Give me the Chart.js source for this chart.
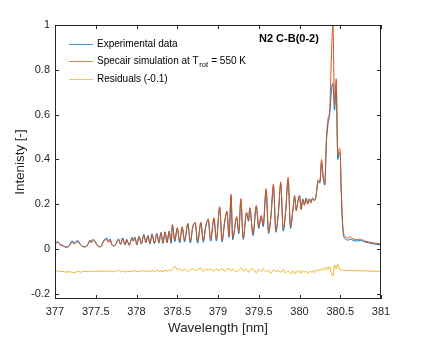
<!DOCTYPE html>
<html>
<head>
<meta charset="utf-8">
<script src="https://cdn.jsdelivr.net/npm/chart.js@4.4.1/dist/chart.umd.min.js"></script>
<style>
  html, body { margin: 0; padding: 0; background: #fff; }
  canvas { display: block; }
</style>
</head>
<body>
<canvas id="chart" width="421" height="337"></canvas>
<script>
// wavelength [nm] of each sample point
const wavelength = [
  377.00, 377.03, 377.06, 377.10, 377.13, 377.17, 377.21, 377.235, 377.26, 377.285,
  377.315, 377.355, 377.39, 377.43, 377.445, 377.46, 377.49, 377.515, 377.56, 377.60,
  377.635, 377.655, 377.675, 377.70, 377.73, 377.78, 377.805, 377.83, 377.86, 377.88,
  377.91, 377.945, 377.96, 377.98, 378.005, 378.03, 378.06, 378.09, 378.115, 378.14,
  378.165, 378.19, 378.22, 378.25, 378.275, 378.30, 378.325, 378.35, 378.375, 378.40,
  378.425, 378.44, 378.47, 378.50, 378.53, 378.56, 378.59, 378.63, 378.66, 378.69,
  378.72, 378.75, 378.79, 378.82, 378.85, 378.88, 378.91, 378.95, 378.98, 379.02,
  379.05, 379.08, 379.11, 379.135, 379.16, 379.18, 379.23, 379.255, 379.28, 379.31,
  379.35, 379.375, 379.39, 379.43, 379.47, 379.50, 379.53, 379.555, 379.59, 379.62,
  379.65, 379.68, 379.71, 379.74, 379.77, 379.80, 379.83, 379.86, 379.89, 379.92,
  379.94, 379.96, 379.98, 380.00, 380.02, 380.04, 380.06, 380.08, 380.10, 380.12,
  380.14, 380.16, 380.18, 380.20, 380.23, 380.25, 380.27, 380.29, 380.31, 380.33,
  380.35, 380.37, 380.39, 380.41, 380.43, 380.45, 380.47, 380.49, 380.50, 380.51,
  380.53, 380.55, 380.60, 380.62, 380.65, 380.70, 380.75, 380.80, 380.90, 381.00
];

const experimental = [
  0.022, 0.034, 0.022, 0.015, 0.009, 0.013, 0.037, 0.025, 0.035, 0.036,
  0.020, 0.010, 0.013, 0.040, 0.030, 0.042, 0.037, 0.019, 0.010, 0.040,
  0.048, 0.032, 0.045, 0.019, 0.014, 0.045, 0.021, 0.050, 0.018, 0.044,
  0.016, 0.052, 0.036, 0.054, 0.018, 0.058, 0.022, 0.066, 0.027, 0.061,
  0.022, 0.068, 0.024, 0.070, 0.026, 0.074, 0.025, 0.077, 0.027, 0.080,
  0.025, 0.105, 0.033, 0.092, 0.028, 0.095, 0.032, 0.110, 0.027, 0.096,
  0.114, 0.026, 0.116, 0.030, 0.100, 0.128, 0.035, 0.134, 0.036, 0.182,
  0.032, 0.114, 0.164, 0.052, 0.235, 0.042, 0.140, 0.068, 0.215, 0.043,
  0.160, 0.124, 0.178, 0.060, 0.188, 0.092, 0.144, 0.100, 0.260, 0.070,
  0.145, 0.280, 0.075, 0.155, 0.290, 0.080, 0.165, 0.308, 0.092, 0.176,
  0.232, 0.175, 0.215, 0.236, 0.180, 0.224, 0.200, 0.228, 0.205, 0.225,
  0.210, 0.228, 0.218, 0.232, 0.300, 0.295, 0.385, 0.320, 0.285, 0.475,
  0.560, 0.600, 0.700, 0.740, 0.620, 0.730, 0.400, 0.430, 0.420, 0.280,
  0.100, 0.050, 0.040, 0.045, 0.040, 0.036, 0.038, 0.032, 0.024, 0.018
];

const simulation = [
  0.020, 0.030, 0.020, 0.014, 0.008, 0.012, 0.030, 0.022, 0.030, 0.032,
  0.018, 0.010, 0.012, 0.035, 0.028, 0.037, 0.033, 0.018, 0.010, 0.035,
  0.042, 0.030, 0.040, 0.018, 0.015, 0.040, 0.022, 0.045, 0.020, 0.040,
  0.018, 0.048, 0.035, 0.050, 0.020, 0.055, 0.025, 0.062, 0.030, 0.058,
  0.025, 0.065, 0.028, 0.068, 0.030, 0.072, 0.030, 0.075, 0.032, 0.078,
  0.030, 0.110, 0.040, 0.095, 0.035, 0.100, 0.040, 0.115, 0.035, 0.100,
  0.120, 0.035, 0.120, 0.040, 0.105, 0.135, 0.045, 0.140, 0.045, 0.190,
  0.040, 0.120, 0.170, 0.060, 0.245, 0.050, 0.145, 0.075, 0.225, 0.050,
  0.165, 0.130, 0.185, 0.070, 0.195, 0.100, 0.150, 0.110, 0.270, 0.080,
  0.150, 0.290, 0.085, 0.160, 0.300, 0.090, 0.170, 0.320, 0.100, 0.180,
  0.240, 0.170, 0.210, 0.240, 0.175, 0.220, 0.195, 0.225, 0.200, 0.220,
  0.205, 0.225, 0.215, 0.230, 0.310, 0.300, 0.400, 0.330, 0.290, 0.490,
  0.580, 0.620, 0.840, 1.000, 0.640, 0.760, 0.420, 0.450, 0.430, 0.290,
  0.110, 0.060, 0.050, 0.055, 0.047, 0.042, 0.044, 0.036, 0.028, 0.022
];

// residuals, already shifted by -0.1
const residuals = [
  -0.099, -0.097, -0.101, -0.100, -0.103, -0.101, -0.104, -0.106, -0.102, -0.100,
  -0.103, -0.099, -0.101, -0.098, -0.102, -0.099, -0.101, -0.097, -0.100, -0.098,
  -0.101, -0.099, -0.097, -0.102, -0.100, -0.096, -0.101, -0.098, -0.103, -0.099,
  -0.101, -0.097, -0.100, -0.096, -0.102, -0.098, -0.101, -0.095, -0.100, -0.097,
  -0.102, -0.096, -0.101, -0.094, -0.099, -0.097, -0.101, -0.095, -0.099, -0.093,
  -0.098, -0.092, -0.076, -0.093, -0.088, -0.097, -0.090, -0.099, -0.092, -0.088,
  -0.097, -0.091, -0.086, -0.099, -0.090, -0.094, -0.088, -0.098, -0.091, -0.096,
  -0.087, -0.099, -0.092, -0.086, -0.097, -0.090, -0.101, -0.093, -0.085, -0.098,
  -0.090, -0.103, -0.094, -0.089, -0.106, -0.092, -0.099, -0.088, -0.102, -0.095,
  -0.109, -0.093, -0.100, -0.096, -0.104, -0.091, -0.107, -0.098, -0.110, -0.097,
  -0.112, -0.099, -0.105, -0.094, -0.108, -0.096, -0.103, -0.099, -0.110, -0.100,
  -0.104, -0.097, -0.106, -0.093, -0.098, -0.090, -0.095, -0.085, -0.094, -0.080,
  -0.092, -0.078, -0.105, -0.120, -0.070, -0.088, -0.068, -0.090, -0.092, -0.094,
  -0.093, -0.095, -0.096, -0.094, -0.097, -0.096, -0.098, -0.097, -0.099, -0.099
];

const xTicks = [377, 377.5, 378, 378.5, 379, 379.5, 380, 380.5, 381];
const yTicks = [-0.2, 0, 0.2, 0.4, 0.6, 0.8, 1];

const seriesLabels = ['Experimental data', 'Specair simulation at T', 'Residuals (-0.1)'];
const plotTitle = 'N2 C-B(0-2)';

const axisColor = '#262626';
const font = '"Liberation Sans", Arial, Helvetica, sans-serif';

const toPoints = vals => vals.map((v, i) => ({ x: wavelength[i], y: v }));

// box around the plot, inward ticks, legend and title (matlab look)
const matlabFrame = {
    id: 'matlabFrame',
    afterDatasetsDraw(chart) {
        const { ctx, chartArea: a, scales: { x, y } } = chart;
        ctx.save();
        ctx.strokeStyle = axisColor;
        ctx.lineWidth = 1;
        ctx.strokeRect(Math.round(a.left) + 0.5, Math.round(a.top) + 0.5,
            Math.round(a.width) - 1, Math.round(a.height) - 1);

        const tl = 4;
        ctx.beginPath();
        xTicks.forEach(t => {
            const px = Math.round(x.getPixelForValue(t)) + 0.5;
            ctx.moveTo(px, a.bottom); ctx.lineTo(px, a.bottom - tl);
            ctx.moveTo(px, a.top); ctx.lineTo(px, a.top + tl);
        });
        yTicks.forEach(t => {
            const py = Math.round(y.getPixelForValue(t)) + 0.5;
            ctx.moveTo(a.left, py); ctx.lineTo(a.left + tl, py);
            ctx.moveTo(a.right, py); ctx.lineTo(a.right - tl, py);
        });
        ctx.stroke();

        // legend
        const ds = chart.data.datasets;
        const order = [2, 1, 0]; // datasets listed residual, sim, exp
        const rows = [44, 61, 79];
        ctx.font = '10px ' + font;
        ctx.textBaseline = 'middle';
        order.forEach((di, r) => {
            const yy = rows[r] + 0.5;
            ctx.globalAlpha = 0.75;
            ctx.strokeStyle = ds[di].borderColor;
            ctx.beginPath();
            ctx.moveTo(69, yy); ctx.lineTo(93, yy);
            ctx.stroke();
            ctx.globalAlpha = 1;
            ctx.fillStyle = '#000';
            ctx.fillText(seriesLabels[r], 97, rows[r]);
            if (r === 1) {
                let tx = 97 + ctx.measureText(seriesLabels[r]).width;
                ctx.font = '7.5px ' + font;
                ctx.fillText('rot', tx + 0.5, rows[r] + 4);
                tx += ctx.measureText('rot').width + 1;
                ctx.font = '10px ' + font;
                ctx.fillText(' = 550 K', tx, rows[r]);
            }
        });

        ctx.font = 'bold 11px ' + font;
        ctx.fillText(plotTitle, 259, 39);
        ctx.restore();
    }
};

const lineStyle = { borderWidth: 1, pointRadius: 0, cubicInterpolationMode: 'monotone' };

new Chart(document.getElementById('chart'), {
    type: 'line',
    data: {
        datasets: [
            Object.assign({
                label: 'Residuals (-0.1)',
                data: toPoints(residuals),
                borderColor: '#EDB120',
                order: 1
            }, lineStyle),
            Object.assign({
                label: 'Specair simulation',
                data: toPoints(simulation),
                borderColor: '#D95319',
                order: 2
            }, lineStyle),
            Object.assign({
                label: 'Experimental data',
                data: toPoints(experimental),
                borderColor: '#0072BD',
                order: 3
            }, lineStyle)
        ]
    },
    options: {
        responsive: false,
        animation: false,
        layout: { padding: { top: 25, right: 40, left: 0, bottom: 0 } },
        plugins: {
            legend: { display: false },
            tooltip: { enabled: false }
        },
        scales: {
            x: {
                type: 'linear',
                min: 377,
                max: 381,
                afterBuildTicks: s => { s.ticks = xTicks.map(v => ({ value: v })); },
                afterFit: s => { s.height = 38; },
                grid: { display: false, drawTicks: false },
                border: { display: false },
                ticks: {
                    padding: 6,
                    color: axisColor,
                    font: { family: font, size: 11 },
                    maxRotation: 0,
                    callback: v => String(v)
                },
                title: {
                    display: true,
                    text: 'Wavelength [nm]',
                    color: axisColor,
                    font: { family: font, size: 13.4 },
                    padding: { top: 0, bottom: 1 }
                }
            },
            y: {
                type: 'linear',
                min: -0.223,
                max: 1,
                afterBuildTicks: s => { s.ticks = yTicks.map(v => ({ value: v })); },
                afterFit: s => { s.width = 55; },
                grid: { display: false, drawTicks: false },
                border: { display: false },
                ticks: {
                    padding: 5,
                    color: axisColor,
                    font: { family: font, size: 11 },
                    callback: v => String(v)
                },
                title: {
                    display: true,
                    text: 'Intenisty [-]',
                    color: axisColor,
                    font: { family: font, size: 13.4 },
                    padding: { top: 12, bottom: 0 }
                }
            }
        }
    },
    plugins: [matlabFrame]
});
</script>
</body>
</html>
